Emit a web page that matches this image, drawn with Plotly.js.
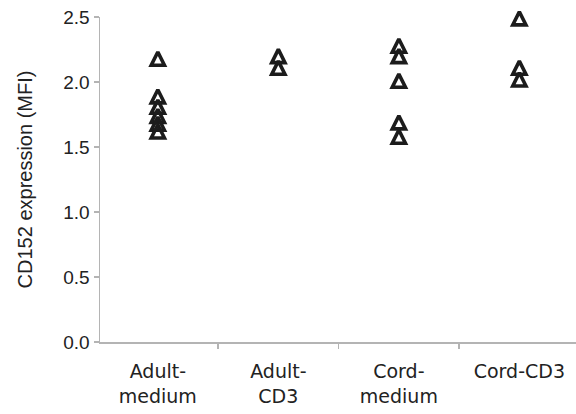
<!DOCTYPE html>
<html>
<head>
<meta charset="utf-8">
<script src="https://cdn.plot.ly/plotly-3.0.1.min.js"></script>
<style>html,body{margin:0;padding:0;background:#fff;}#chart{width:576px;height:414px;}</style>
</head>
<body>
<div id="chart"></div>
<script>
const categories = ["Adult-<br>medium", "Adult-<br>CD3", "Cord-<br>medium", "Cord-CD3"];
const adultMedium = [2.18, 1.89, 1.81, 1.74, 1.68, 1.62];
const adultCD3 = [2.2, 2.11];
const cordMedium = [2.28, 2.2, 2.01, 1.69, 1.58];
const cordCD3 = [2.49, 2.11, 2.02];
const yTicks = [0, 0.5, 1.0, 1.5, 2.0, 2.5];
const yTickText = ["0.0", "0.5", "1.0", "1.5", "2.0", "2.5"];

const groups = [adultMedium, adultCD3, cordMedium, cordCD3];
const xs = [], ys = [];
groups.forEach((g, i) => g.forEach(v => { xs.push(categories[i]); ys.push(v); }));

const trace = {
  type: 'scatter', mode: 'markers', x: xs, y: ys, cliponaxis: false,
  marker: { symbol: 'arrow-down-open', angle: 180, standoff: 6.6, size: 13.2,
            color: '#1c1c1c', line: { color: '#1c1c1c', width: 3.6 } },
  hoverinfo: 'y'
};

const layout = {
  width: 576, height: 414,
  margin: { l: 100, r: 0, t: 17, b: 72 },
  paper_bgcolor: '#fff', plot_bgcolor: '#fff',
  showlegend: false,
  font: { family: 'Liberation Sans, Arial, sans-serif', color: '#222' },
  xaxis: {
    type: 'category', categoryorder: 'array', categoryarray: categories,
    range: [-0.48, 3.47], tickson: 'boundaries', ticks: 'outside', ticklen: 5,
    tickcolor: '#b4b4b4', tickwidth: 1.5,
    showline: true, linecolor: '#b4b4b4', linewidth: 1.5, showgrid: false, zeroline: false,
    tickfont: { family: 'DejaVu Sans, sans-serif', size: 19, color: '#222' },
    ticklabelstandoff: 12
  },
  yaxis: {
    range: [0, 2.5], tickmode: 'array', tickvals: yTicks, ticktext: yTickText,
    ticks: 'outside', ticklen: 5, tickcolor: '#b4b4b4', tickwidth: 1.5,
    showline: true, linecolor: '#b4b4b4', linewidth: 1.5, showgrid: false, zeroline: false,
    tickfont: { family: 'Liberation Sans, Arial, sans-serif', size: 19, color: '#222' },
    title: { text: 'CD152 expression (MFI)', font: { family: 'Liberation Sans, Arial, sans-serif', size: 20, color: '#222' }, standoff: 25 }
  }
};

Plotly.newPlot('chart', [trace], layout, { staticPlot: true, displayModeBar: false });
</script>
</body>
</html>
